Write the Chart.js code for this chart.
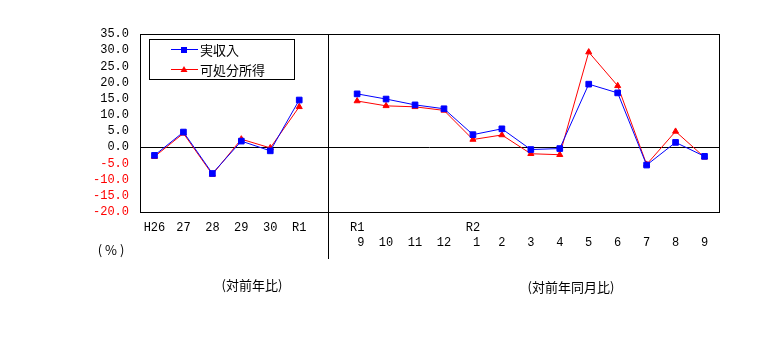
<!DOCTYPE html>
<html>
<head>
<meta charset="utf-8">
<script src="https://cdn.jsdelivr.net/npm/chart.js@4/dist/chart.umd.min.js"></script>
<style>
  body { margin: 0; background: #fff; }
  #wrap { width: 769px; height: 352px; }
</style>
</head>
<body>
<div id="wrap"><canvas id="chart" width="769" height="352"></canvas></div>
<script>
// categories: annual (H26..R1), an empty slot, then monthly (R1.9 .. R2.9)
var categories = [
    ["H26"], ["27"], ["28"], ["29"], ["30"], ["R1"],
    [""],
    ["R1", " 9"], ["", "10"], ["", "11"], ["", "12"],
    ["R2", " 1"], ["", "2"], ["", "3"], ["", "4"], ["", "5"],
    ["", "6"], ["", "7"], ["", "8"], ["", "9"]
];
var gapIndex = 6;

// 実収入
var income = [-2.5, 4.7, -8.1, 1.9, -1.1, 14.6, null,
    16.5, 14.9, 13.1, 11.9, 3.9, 5.7, -0.7, -0.4, 19.5, 16.8, -5.5, 1.5, -2.8];
// 可処分所得
var disposable = [-2.9, 4.3, -8.4, 2.5, -0.2, 12.5, null,
    14.3, 12.8, 12.5, 11.4, 2.4, 3.8, -2.0, -2.3, 29.4, 19.0, -5.3, 4.9, -3.1];

var seriesNames = ["実収入", "可処分所得"];
var yMin = -20, yMax = 35, yStep = 5;

var monoFont = "'Liberation Mono', 'DejaVu Sans Mono', monospace";
var jpFont = "'Noto Sans CJK JP', sans-serif";

// 枠・区切り線・凡例・注記
var decor = {
    id: "decor",
    afterDraw: function (chart) {
        var c = chart.ctx;
        var a = chart.chartArea;
        var xs = chart.scales.x;
        c.save();
        c.strokeStyle = "#000";
        c.lineWidth = 1;
        c.strokeRect(Math.round(a.left) + 0.5, Math.round(a.top) + 0.5,
            Math.round(a.right - a.left), Math.round(a.bottom - a.top));

        // 区切り線
        var gx = Math.round(xs.getPixelForValue(gapIndex)) + 0.5;
        c.beginPath();
        c.moveTo(gx, a.top);
        c.lineTo(gx, 259);
        c.stroke();

        // 凡例
        c.fillStyle = "#fff";
        c.fillRect(149.5, 39.5, 145, 40);
        c.strokeRect(149.5, 39.5, 145, 40);
        var rows = [
            { y: 49, color: "#0000ff", name: seriesNames[0], shape: "rect" },
            { y: 69, color: "#ff0000", name: seriesNames[1], shape: "tri" }
        ];
        rows.forEach(function (r) {
            c.strokeStyle = r.color;
            c.fillStyle = r.color;
            c.beginPath();
            c.moveTo(171, r.y + 0.5);
            c.lineTo(198, r.y + 0.5);
            c.stroke();
            if (r.shape === "rect") {
                c.fillRect(181, r.y - 2, 6, 6);
            } else {
                c.beginPath();
                c.moveTo(184, r.y - 3);
                c.lineTo(187.5, r.y + 3);
                c.lineTo(180.5, r.y + 3);
                c.closePath();
                c.fill();
            }
            c.fillStyle = "#000";
            c.font = "13px " + jpFont;
            c.textBaseline = "middle";
            c.textAlign = "left";
            c.fillText(r.name, 200, r.y + 1);
        });

        // 注記
        c.fillStyle = "#000";
        c.textAlign = "center";
        c.textBaseline = "middle";
        c.font = "13px " + jpFont;
        c.fillText("( % )", 111, 250);
        c.fillText("(対前年比)", 252, 285);
        c.fillText("(対前年同月比)", 571, 287);
        c.restore();
    }
};

new Chart(document.getElementById("chart").getContext("2d"), {
    type: "line",
    data: {
        labels: categories,
        datasets: [
            {
                label: seriesNames[0],
                data: income,
                borderColor: "#0000ff",
                backgroundColor: "#0000ff",
                borderWidth: 1,
                pointStyle: "rect",
                pointRadius: 4,
                spanGaps: false,
            },
            {
                label: seriesNames[1],
                data: disposable,
                borderColor: "#ff0000",
                backgroundColor: "#ff0000",
                borderWidth: 1,
                pointStyle: "triangle",
                pointRadius: 3.5,
                spanGaps: false,
            },
        ],
    },
    options: {
        responsive: false,
        animation: false,
        events: [],
        layout: { padding: { left: 0, right: 50, top: 34, bottom: 0 } },
        plugins: {
            legend: { display: false },
            tooltip: { enabled: false },
        },
        scales: {
            x: {
                offset: true,
                grid: { display: false, drawTicks: false },
                border: { display: false },
                ticks: {
                    autoSkip: false,
                    maxRotation: 0,
                    padding: 9,
                    color: "#000",
                    font: { family: monoFont, size: 12, lineHeight: 1.2 },
                },
                afterFit: function (scale) { scale.height = 140; },
            },
            y: {
                min: yMin,
                max: yMax,
                ticks: {
                    stepSize: yStep,
                    autoSkip: false,
                    padding: 11,
                    color: function (ctx) { return ctx.tick.value < 0 ? "#ff0000" : "#000"; },
                    font: { family: monoFont, size: 12 },
                    callback: function (v) { return v.toFixed(1); },
                },
                grid: {
                    drawTicks: false,
                    color: function (ctx) { return ctx.tick.value === 0 ? "#000" : "rgba(0,0,0,0)"; },
                },
                border: { display: false },
                afterFit: function (scale) { scale.width = 140; },
            },
        },
    },
    plugins: [decor],
});
</script>
</body>
</html>
